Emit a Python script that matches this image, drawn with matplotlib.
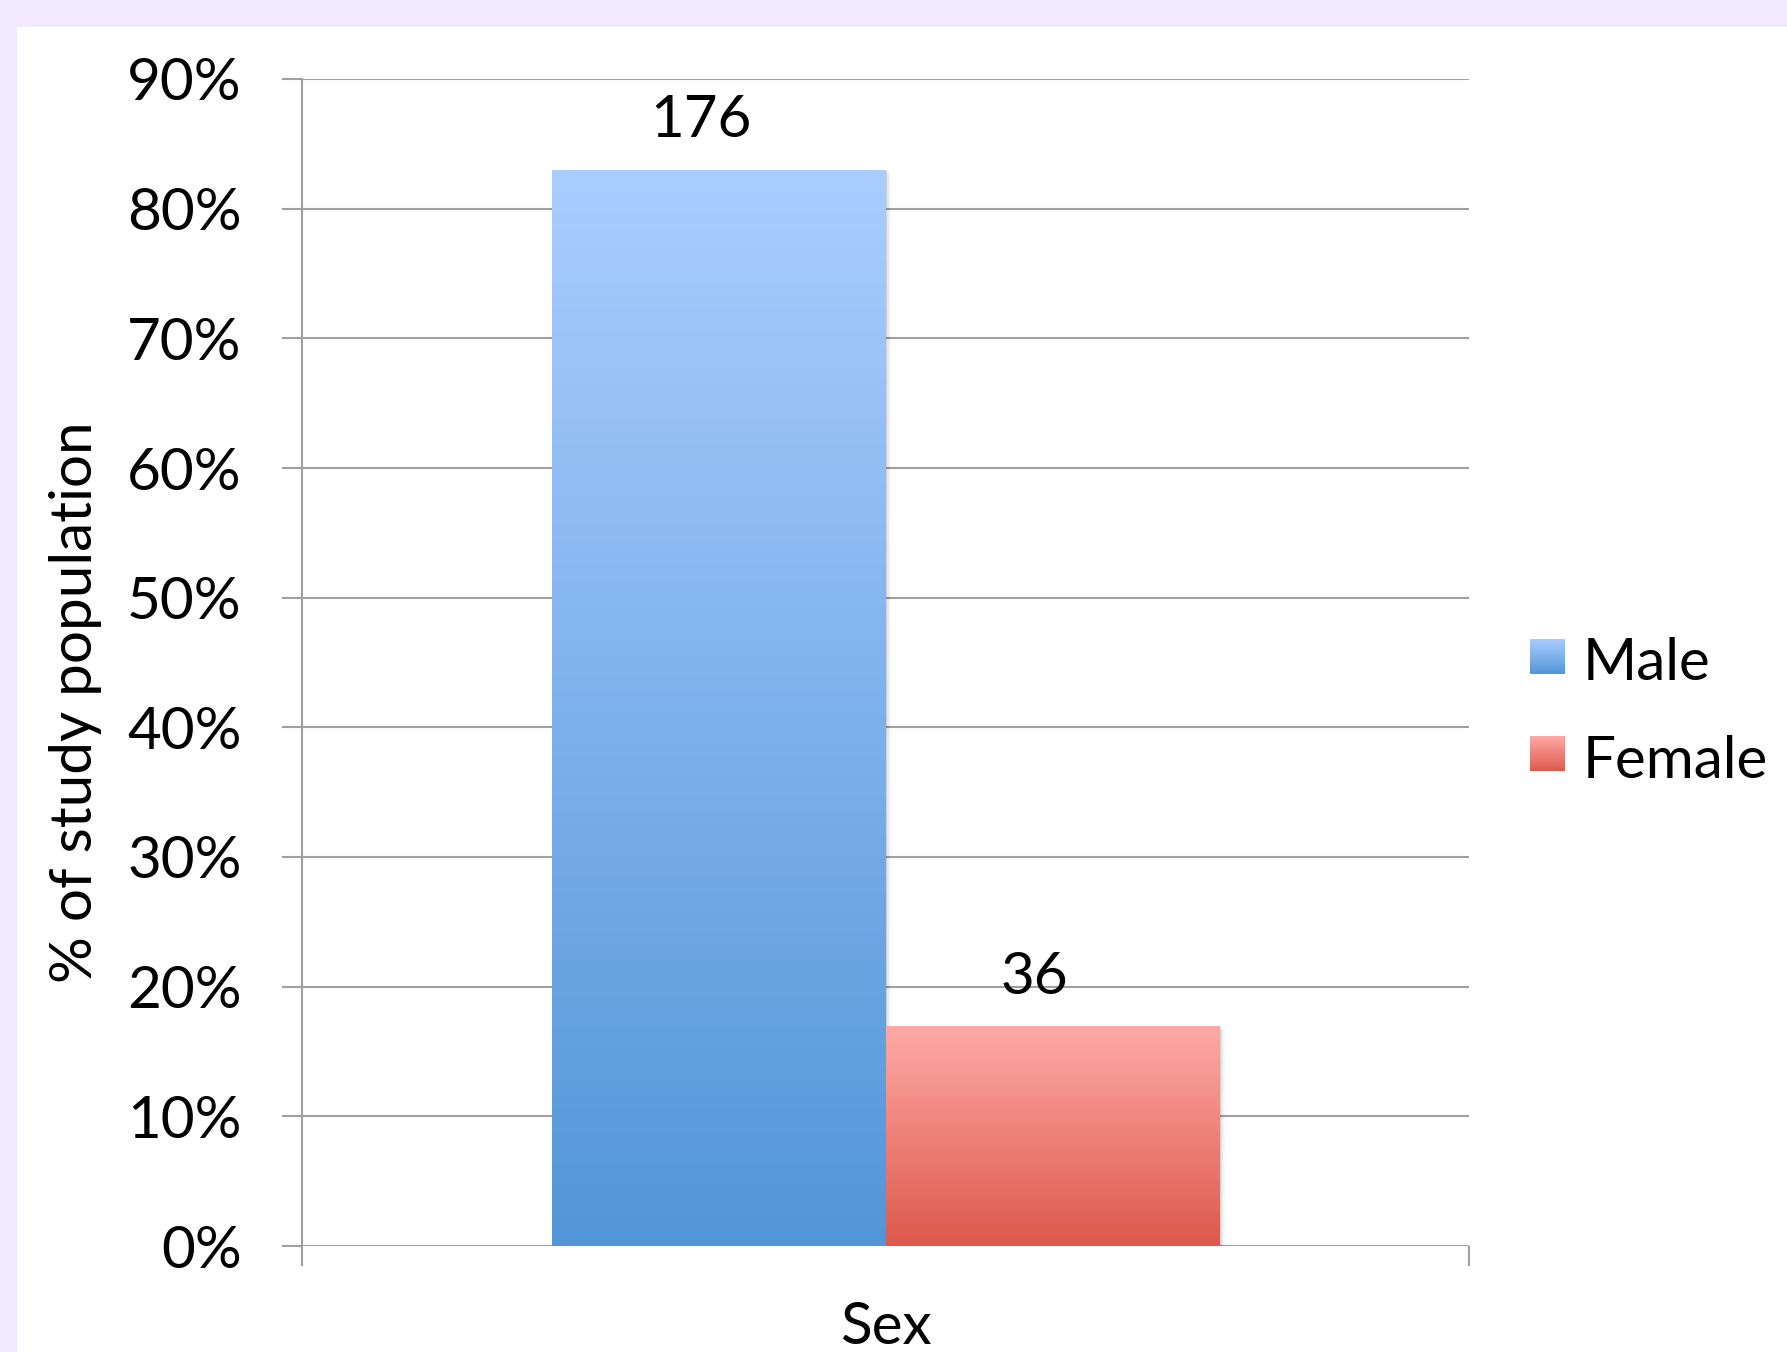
"""
Répartition de la population d'étude selon le sexe
"""
import numpy as np
import matplotlib.pyplot as plt
from matplotlib.colors import LinearSegmentedColormap
from matplotlib.patches import Rectangle
from matplotlib.ticker import PercentFormatter

# données
categories = ['Male', 'Female']
effectifs = [176, 36]
total = sum(effectifs)
parts = [n / total for n in effectifs]
positions = [-0.143, 0.143]
yticks = [0.0, 0.1, 0.2, 0.3, 0.4, 0.5, 0.6, 0.7, 0.8, 0.9]

# dégradés (haut -> bas)
degrades = {
    'Male': ('#AACDFF', '#5396D8'),
    'Female': ('#FFAAA6', '#DD594C'),
}

plt.rcParams['font.family'] = ['Lato', 'DejaVu Sans']
TAILLE = 42
W, H = 1787, 1352
fig = plt.figure(figsize=(W / 100, H / 100), dpi=100)
fig.patch.set_facecolor('#F1E9FD')

# fond blanc + légende sur un axe couvrant toute la figure
fond = fig.add_axes([0, 0, 1, 1], zorder=0)
fond.axis('off')
fond.add_patch(Rectangle((17, 27), W, H, facecolor='white', edgecolor='none',
                         zorder=1))


def gradient(haut, bas):
    cmap = LinearSegmentedColormap.from_list('g', [haut, bas])
    return cmap, np.linspace(0, 1, 256).reshape(-1, 1)


ax = fig.add_axes([302 / W, 1 - 1246 / H, 1167 / W, 1167 / H], zorder=1)
ax.set_facecolor('none')

barres = ax.bar(positions, parts, width=0.286, color='none', zorder=3)
for barre, nom, n in zip(barres, categories, effectifs):
    x0, y0 = barre.get_x(), barre.get_y()
    w, h = barre.get_width(), barre.get_height()
    # ombre légère
    for k, a in enumerate([0.10, 0.06, 0.03]):
        ax.add_patch(Rectangle((x0 + 0.0015 * (k + 1), y0), w, h - 0.0015 * k,
                               facecolor='black', alpha=a, edgecolor='none',
                               zorder=2))
    cmap, grad = gradient(*degrades[nom])
    im = ax.imshow(grad, cmap=cmap, aspect='auto', extent=(x0, x0 + w, y0, y0 + h),
                   zorder=3, interpolation='bilinear')
    im.set_clip_path(barre)
    ax.annotate(str(n), (x0 + w / 2, y0 + h), xytext=(-13, 35),
                textcoords='offset points', ha='center', va='center',
                fontsize=TAILLE)

ax.set_xlim(-0.5, 0.5)
ax.set_ylim(0, 0.9)
ax.set_yticks(yticks)
ax.yaxis.set_major_formatter(PercentFormatter(1.0, decimals=0))
ax.grid(axis='y', color='#A0A0A0', linewidth=1.5, zorder=1)
ax.set_axisbelow(True)

for cote in ['top', 'right', 'bottom']:
    ax.spines[cote].set_visible(False)
ax.spines['left'].set_color('#A0A0A0')
ax.spines['left'].set_linewidth(1.5)

ax.tick_params(axis='y', length=14.4, width=1.5, color='#A0A0A0', pad=29,
               labelsize=TAILLE)
ax.set_xticks([-0.5, 0.5])
ax.set_xticklabels([])
ax.tick_params(axis='x', length=14.4, width=1.5, color='#A0A0A0')

ax.text(0.5, -0.070, 'Sex', transform=ax.transAxes, ha='center', va='center',
        fontsize=TAILLE)
ax.text(-0.194, 0.466, '% of study population', transform=ax.transAxes,
        rotation=90, ha='center', va='center', fontsize=TAILLE)

# légende
for (nom, (haut, bas)), yc in zip(degrades.items(), [657, 754]):
    cmap, grad = gradient(haut, bas)
    fond.imshow(grad, cmap=cmap, aspect='auto', zorder=2,
                extent=(1530, 1565, yc + 17.5, yc - 17.5), interpolation='bilinear')
    fond.text(1583, yc + 7, nom, ha='left', va='center', fontsize=TAILLE, zorder=3)
fond.set_xlim(0, W)
fond.set_ylim(H, 0)

fig.savefig('out.png', dpi=100, facecolor=fig.get_facecolor())
